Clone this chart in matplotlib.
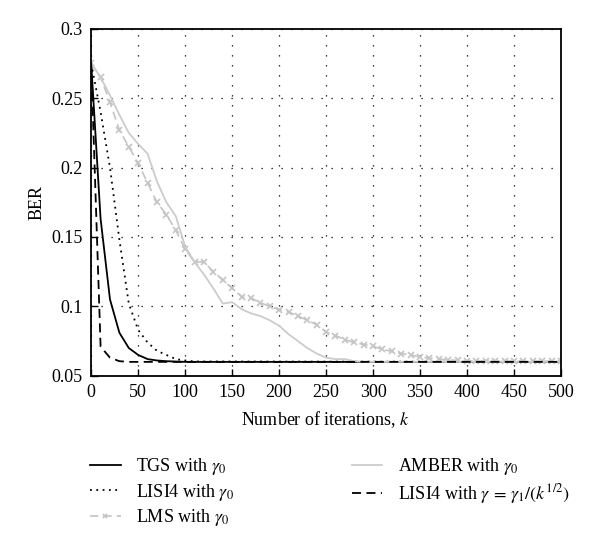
import numpy as np
import matplotlib
matplotlib.use("Agg")
import matplotlib.pyplot as plt

plt.rcParams['font.family'] = ['Liberation Serif', 'DejaVu Serif']
plt.rcParams['mathtext.fontset'] = 'stix'

# iterations for each series
k_tgs = [0, 10, 20, 30, 40, 50, 60, 70, 80, 100, 500]
ber_tgs = [0.275, 0.163, 0.105, 0.081, 0.070, 0.065, 0.062, 0.061, 0.0605, 0.060, 0.060]

k_lisi = [0, 10, 20, 30, 40, 50, 60, 70, 80, 90, 100, 110, 500]
ber_lisi = [0.275, 0.240, 0.200, 0.148, 0.102, 0.083, 0.074, 0.068, 0.065, 0.062, 0.061, 0.0603, 0.060]

k_lisi_g = [0, 10, 20, 30, 40, 500]
ber_lisi_g = [0.275, 0.071, 0.063, 0.0605, 0.060, 0.060]

k_amber = [0, 10, 20, 30, 40, 50, 60, 70, 80, 90, 100, 110, 120, 130, 140, 150,
           160, 170, 180, 190, 200, 210, 220, 230, 240, 250, 260, 270, 280, 290, 500]
ber_amber = [0.275, 0.265, 0.252, 0.238, 0.225, 0.217, 0.210, 0.190, 0.175, 0.165,
             0.143, 0.132, 0.123, 0.113, 0.102, 0.103, 0.098, 0.095, 0.093, 0.090,
             0.086, 0.080, 0.075, 0.070, 0.066, 0.063, 0.062, 0.062, 0.0605, 0.060, 0.060]

k_lms = list(range(0, 501, 10))
ber_lms = [0.275, 0.265, 0.247, 0.227, 0.215, 0.203, 0.189, 0.175, 0.166, 0.155,
           0.141, 0.132, 0.132, 0.125, 0.119, 0.113, 0.107, 0.106, 0.1026, 0.100,
           0.0976, 0.096, 0.093, 0.090, 0.0867, 0.0815, 0.079, 0.076, 0.074, 0.0725,
           0.0712, 0.069, 0.0676, 0.066, 0.065, 0.0635, 0.0627, 0.062, 0.0615, 0.061,
           0.0608, 0.0606, 0.0605, 0.0605, 0.0605, 0.0605, 0.0605, 0.0605, 0.0605, 0.0605, 0.0605]

fig = plt.figure(figsize=(6, 5.43), dpi=100)
ax = fig.add_axes([0.152, 0.308, 0.783, 0.639])

l_tgs, = ax.plot(k_tgs, ber_tgs, color='black', lw=1.3, label=r'TGS with $\gamma_0$')
l_lisi, = ax.plot(k_lisi, ber_lisi, color='black', lw=1.3, linestyle=(0, (1, 2.5)),
                  label=r'LISI4 with $\gamma_0$')
l_lms, = ax.plot(k_lms, ber_lms, color='#c4c4c4', lw=1.2, linestyle=(0, (5, 3)),
                 marker='x', markersize=5, markeredgewidth=1.2, label=r'LMS with $\gamma_0$')
l_amber, = ax.plot(k_amber, ber_amber, color='#cccccc', lw=1.3, label=r'AMBER with $\gamma_0$')
l_lg, = ax.plot(k_lisi_g, ber_lisi_g, color='black', lw=1.3, linestyle=(0, (5, 3)),
                label=r'LISI4 with $\gamma\,=\,\gamma_1/(k^{1/2})$')

ax.set_xlim(0, 500)
ax.set_ylim(0.05, 0.3)
ax.set_xticks(np.arange(0, 501, 50))
ax.set_yticks([0.05, 0.1, 0.15, 0.2, 0.25, 0.3])
ax.set_yticklabels(['0.05', '0.1', '0.15', '0.2', '0.25', '0.3'])
ax.tick_params(direction='in', labelsize=13, length=5, width=1, pad=6)
ax.grid(True, color='black', linestyle=(0, (1, 7)), linewidth=0.9)
for s in ax.spines.values():
    s.set_linewidth(1.3)
    s.set_zorder(5)

ax.set_xlabel('Number of iterations, $k$', fontsize=13, labelpad=6)
ax.set_ylabel('BER', fontsize=13, labelpad=4)

leg = fig.legend(handles=[l_tgs, l_lisi, l_lms, l_amber, l_lg], ncol=2, frameon=False,
                 loc='upper left', bbox_to_anchor=(0.123, 0.19), fontsize=13,
                 handlelength=1.7, handletextpad=0.85, columnspacing=6.5, labelspacing=0.25,
                 markerscale=0.7)

fig.savefig('out.png', dpi=100)
